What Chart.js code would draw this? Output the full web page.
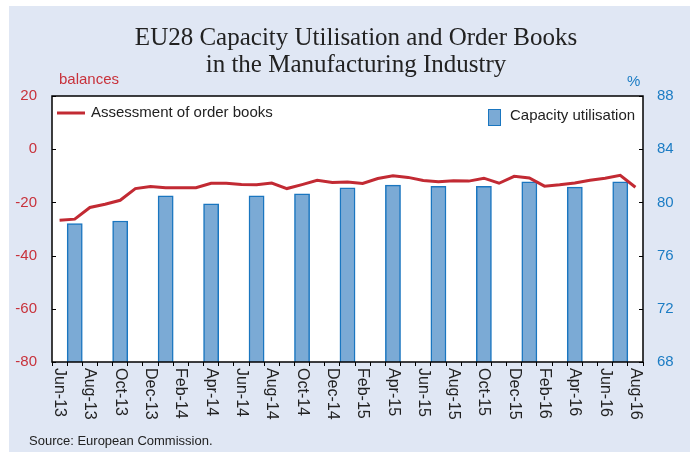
<!DOCTYPE html>
<html>
<head>
<meta charset="utf-8">
<script src="https://cdn.jsdelivr.net/npm/chart.js@4"></script>
<style>
  html, body { margin: 0; padding: 0; background: #fff; }
  #wrap { width: 695px; height: 452px; position: relative; }
</style>
</head>
<body>
<div id="wrap"><canvas id="c" width="695" height="452"></canvas></div>
<script>
// months on the x axis
const months = [
  'Jun-13','Jul-13','Aug-13','Sep-13','Oct-13','Nov-13','Dec-13',
  'Jan-14','Feb-14','Mar-14','Apr-14','May-14','Jun-14','Jul-14','Aug-14','Sep-14','Oct-14','Nov-14','Dec-14',
  'Jan-15','Feb-15','Mar-15','Apr-15','May-15','Jun-15','Jul-15','Aug-15','Sep-15','Oct-15','Nov-15','Dec-15',
  'Jan-16','Feb-16','Mar-16','Apr-16','May-16','Jun-16','Jul-16','Aug-16'
];

// assessment of order books (balances, left axis)
const orderBooks = [
  -26.7, -26.3, -21.9, -20.7, -19.2, -14.8, -14.0,
  -14.5, -14.5, -14.5, -12.8, -12.8, -13.3, -13.4, -12.7, -14.8, -13.3, -11.7, -12.5,
  -12.3, -12.9, -11.0, -10.0, -10.6, -11.8, -12.2, -11.9, -12.0, -10.9, -12.8, -10.2,
  -10.8, -13.9, -13.4, -12.7, -11.7, -10.9, -9.8, -14.3
];

// capacity utilisation (%, right axis), quarterly
const quarters = ['Jul-13','Oct-13','Jan-14','Apr-14','Jul-14','Oct-14','Jan-15','Apr-15','Jul-15','Oct-15','Jan-16','Apr-16','Jul-16'];
const capacity = [78.4, 78.6, 80.5, 79.9, 80.5, 80.65, 81.1, 81.3, 81.2, 81.2, 81.55, 81.15, 81.55];

// which month labels get written under the axis
const shownLabels = months.filter((m, i) => i % 2 === 0);

const RED = '#C22A33';
const RED_TXT = '#C8323B';
const BLUE_TXT = '#1B7CC4';
const BAR_FILL = '#7BAAD5';
const BAR_EDGE = '#1A76C0';
const PANEL = '#E0E7F4';
const SANS = '"Liberation Sans", Arial, sans-serif';

const capacityByMonth = months.map(m => {
  const q = quarters.indexOf(m);
  return q >= 0 ? capacity[q] : null;
});

// background, title, frame, inward ticks, rotated labels, legend, source
const decor = {
  id: 'decor',
  beforeDraw(chart) {
    const ctx = chart.ctx;
    const a = chart.chartArea;
    ctx.save();
    ctx.fillStyle = '#fff';
    ctx.fillRect(0, 0, chart.width, chart.height);
    ctx.fillStyle = PANEL;
    ctx.fillRect(9, 6, 681, 446);
    ctx.fillStyle = '#fff';
    ctx.fillRect(a.left, a.top, a.right - a.left, a.bottom - a.top);

    ctx.fillStyle = '#222';
    ctx.font = '25px "Liberation Serif", "Times New Roman", serif';
    ctx.textAlign = 'center';
    ctx.textBaseline = 'alphabetic';
    ctx.fillText('EU28 Capacity Utilisation and Order Books', 356, 45);
    ctx.fillText('in the Manufacturing Industry', 356, 72);

    ctx.font = '15px ' + SANS;
    ctx.textAlign = 'left';
    ctx.fillStyle = RED_TXT;
    ctx.fillText('balances', 59, 84);
    ctx.fillStyle = BLUE_TXT;
    ctx.fillText('%', 627, 86);

    ctx.fillStyle = '#222';
    ctx.font = '13px ' + SANS;
    ctx.textBaseline = 'middle';
    ctx.fillText('Source: European Commission.', 29, 441);
    ctx.restore();
  },
  afterDraw(chart) {
    const ctx = chart.ctx;
    const a = chart.chartArea;
    const yl = chart.scales.y;
    const yr = chart.scales.y2;
    const x = chart.scales.x;
    ctx.save();
    ctx.strokeStyle = '#000';
    ctx.lineWidth = 1.5;
    ctx.strokeRect(a.left, a.top, a.right - a.left, a.bottom - a.top);

    ctx.lineWidth = 1;
    ctx.beginPath();
    yl.ticks.forEach(t => {
      const py = Math.round(yl.getPixelForValue(t.value)) + 0.5;
      ctx.moveTo(a.left, py); ctx.lineTo(a.left + 4, py);
    });
    yr.ticks.forEach(t => {
      const py = Math.round(yr.getPixelForValue(t.value)) + 0.5;
      ctx.moveTo(a.right, py); ctx.lineTo(a.right - 4, py);
    });
    ctx.stroke();

    // month labels, rotated to read downwards
    ctx.fillStyle = '#222';
    ctx.font = '16px ' + SANS;
    ctx.textAlign = 'left';
    ctx.textBaseline = 'middle';
    shownLabels.forEach(lbl => {
      const px = x.getPixelForValue(months.indexOf(lbl));
      ctx.save();
      ctx.translate(px, a.bottom + 6);
      ctx.rotate(Math.PI / 2);
      ctx.fillText(lbl, 0, 0);
      ctx.restore();
    });

    // legend
    ctx.font = '15px ' + SANS;
    ctx.strokeStyle = RED;
    ctx.lineWidth = 3;
    ctx.beginPath();
    ctx.moveTo(57, 113); ctx.lineTo(85, 113);
    ctx.stroke();
    ctx.fillStyle = '#222';
    ctx.fillText('Assessment of order books', 91, 113);

    ctx.fillStyle = BAR_FILL;
    ctx.fillRect(488, 109, 13, 17);
    ctx.strokeStyle = BAR_EDGE;
    ctx.lineWidth = 1;
    ctx.strokeRect(488.5, 109.5, 12, 16);
    ctx.fillStyle = '#222';
    ctx.fillText('Capacity utilisation', 510, 116);
    ctx.restore();
  }
};

new Chart(document.getElementById('c'), {
  type: 'bar',
  data: {
    labels: months,
    datasets: [
      {
        type: 'line',
        label: 'Assessment of order books',
        data: orderBooks,
        yAxisID: 'y',
        borderColor: RED,
        borderWidth: 3,
        pointRadius: 0,
        tension: 0,
        order: 0
      },
      {
        type: 'bar',
        label: 'Capacity utilisation',
        data: capacityByMonth,
        yAxisID: 'y2',
        backgroundColor: BAR_FILL,
        borderColor: BAR_EDGE,
        borderWidth: { left: 1.5, right: 1.5, top: 1.5, bottom: 0 },
        barPercentage: 1,
        categoryPercentage: 1,
        order: 1
      }
    ]
  },
  options: {
    responsive: false,
    animation: false,
    layout: { padding: { top: 96, left: 0, right: 0, bottom: 0 } },
    plugins: { legend: { display: false }, title: { display: false }, tooltip: { enabled: false } },
    scales: {
      x: {
        offset: true,
        grid: { offset: true, drawOnChartArea: false, drawTicks: true, tickLength: 4, color: '#000' },
        border: { display: false },
        ticks: { autoSkip: false, maxRotation: 0, callback: () => '' },
        afterFit: s => { s.height = 90; }
      },
      y: {
        position: 'left',
        min: -80, max: 20,
        grid: { display: false, drawTicks: false },
        border: { display: false },
        ticks: { stepSize: 20, padding: 15, color: RED_TXT, font: { family: SANS, size: 15 } },
        afterFit: s => { s.width = 52; }
      },
      y2: {
        position: 'right',
        min: 68, max: 88,
        grid: { display: false, drawTicks: false },
        border: { display: false },
        ticks: { stepSize: 4, padding: 14, color: BLUE_TXT, font: { family: SANS, size: 15 } },
        afterFit: s => { s.width = 52; }
      }
    }
  },
  plugins: [decor]
});
</script>
</body>
</html>
